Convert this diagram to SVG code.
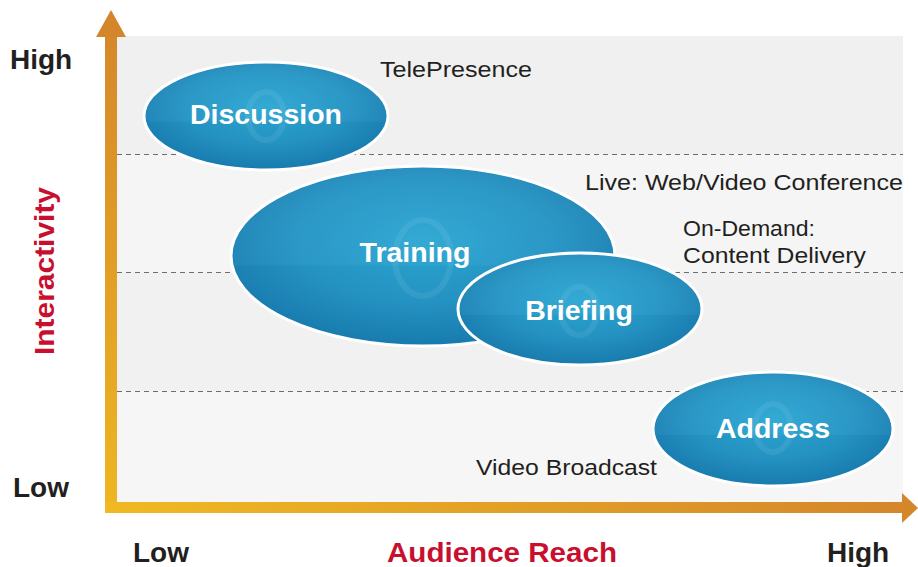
<svg xmlns="http://www.w3.org/2000/svg" width="918" height="567" viewBox="0 0 918 567">
<style>
.lbl{font-family:"Liberation Sans",Arial,sans-serif;font-size:22px;fill:#231f20}
.node-text{font-family:"Liberation Sans",Arial,sans-serif;font-size:28.5px;font-weight:bold;fill:#ffffff;text-anchor:middle}
.axis-text{font-family:"Liberation Sans",Arial,sans-serif;font-size:28px;font-weight:bold;fill:#231f20}
.axis-title{font-family:"Liberation Sans",Arial,sans-serif;font-size:28px;font-weight:bold;fill:#c8102e}
.bubble{fill:url(#blue);stroke:#ffffff;stroke-width:3}
.ring{fill:none;stroke:#ffffff;stroke-opacity:0.07;stroke-width:6}
.gloss{fill:url(#gloss)}
.dash{stroke:#6d6d6d;stroke-width:1;stroke-dasharray:5 4}
</style>
<defs>
<radialGradient id="blue" cx="0.5" cy="0.42" r="0.56">
<stop offset="0" stop-color="#2ca7d3"/>
<stop offset="0.6" stop-color="#2494c4"/>
<stop offset="1" stop-color="#197db1"/>
</radialGradient>
<linearGradient id="gloss" x1="0" y1="0" x2="0" y2="1">
<stop offset="0" stop-color="#ffffff" stop-opacity="0.04"/>
<stop offset="0.55" stop-color="#ffffff" stop-opacity="0.03"/>
<stop offset="0.56" stop-color="#000000" stop-opacity="0.015"/>
<stop offset="1" stop-color="#000000" stop-opacity="0.01"/>
</linearGradient>
<linearGradient id="vgrad" gradientUnits="userSpaceOnUse" x1="0" y1="10" x2="0" y2="513">
<stop offset="0" stop-color="#d4862b"/>
<stop offset="1" stop-color="#eeb622"/>
</linearGradient>
<linearGradient id="hgrad" gradientUnits="userSpaceOnUse" x1="105" y1="0" x2="918" y2="0">
<stop offset="0" stop-color="#f0b923"/>
<stop offset="1" stop-color="#d4862b"/>
</linearGradient>
</defs>

<g id="background">
<rect x="117" y="36" width="786" height="118" fill="#f0f0f0"/>
<rect x="117" y="154" width="786" height="118" fill="#f5f5f5"/>
<rect x="117" y="272" width="786" height="119" fill="#f1f1f1"/>
<rect x="117" y="391" width="786" height="111" fill="#f6f6f6"/>
<line class="dash" x1="117" y1="154.5" x2="903" y2="154.5"/>
<line class="dash" x1="117" y1="272.5" x2="903" y2="272.5"/>
<line class="dash" x1="117" y1="391.5" x2="903" y2="391.5"/>
</g>

<g id="axes">
<rect x="105" y="36" width="12" height="477" fill="url(#vgrad)"/>
<polygon points="96,37 111,10 126,37" fill="#d4862b"/>
<rect x="105" y="502" width="798" height="11" fill="url(#hgrad)"/>
<polygon points="902,493 918,508 902,523" fill="#d4862b"/>
</g>

<g id="labels">
<text class="lbl" x="380" y="77" textLength="152" lengthAdjust="spacingAndGlyphs">TelePresence</text>
<text class="lbl" x="585" y="190" textLength="318" lengthAdjust="spacingAndGlyphs">Live: Web/Video Conference</text>
<text class="lbl" x="683" y="236" textLength="132" lengthAdjust="spacingAndGlyphs">On-Demand:</text>
<text class="lbl" x="683" y="263" textLength="183" lengthAdjust="spacingAndGlyphs">Content Delivery</text>
<text class="lbl" x="476" y="475" textLength="181" lengthAdjust="spacingAndGlyphs">Video Broadcast</text>
</g>

<g id="node-discussion">
<ellipse class="bubble" cx="266" cy="116" rx="122" ry="54"/>
<ellipse class="gloss" cx="266" cy="116" rx="120" ry="52"/>
<ellipse class="ring" cx="266" cy="116" rx="18" ry="24"/>
<text class="node-text" x="266" y="124">Discussion</text>
</g>

<g id="node-training">
<ellipse class="bubble" cx="423" cy="256" rx="192" ry="90"/>
<ellipse class="gloss" cx="423" cy="256" rx="190" ry="88"/>
<ellipse class="ring" cx="423" cy="258" rx="28" ry="38"/>
<text class="node-text" x="415" y="262">Training</text>
</g>

<g id="node-briefing">
<ellipse class="bubble" cx="580" cy="309" rx="122" ry="56"/>
<ellipse class="gloss" cx="580" cy="309" rx="120" ry="54"/>
<ellipse class="ring" cx="579" cy="311" rx="18" ry="24"/>
<text class="node-text" x="579" y="320">Briefing</text>
</g>

<g id="node-address">
<ellipse class="bubble" cx="773" cy="429" rx="120" ry="57"/>
<ellipse class="gloss" cx="773" cy="429" rx="118" ry="55"/>
<ellipse class="ring" cx="773" cy="428" rx="18" ry="24"/>
<text class="node-text" x="773" y="438">Address</text>
</g>

<g id="axis-labels">
<text class="axis-text" x="10" y="69">High</text>
<text class="axis-text" x="13" y="497">Low</text>
<text class="axis-text" x="133" y="562">Low</text>
<text class="axis-title" x="387" y="562" textLength="230" lengthAdjust="spacingAndGlyphs">Audience Reach</text>
<text class="axis-text" x="827" y="562">High</text>
<text class="axis-title" transform="translate(54,271) rotate(-90)" text-anchor="middle" textLength="168" lengthAdjust="spacingAndGlyphs">Interactivity</text>
</g>
</svg>
